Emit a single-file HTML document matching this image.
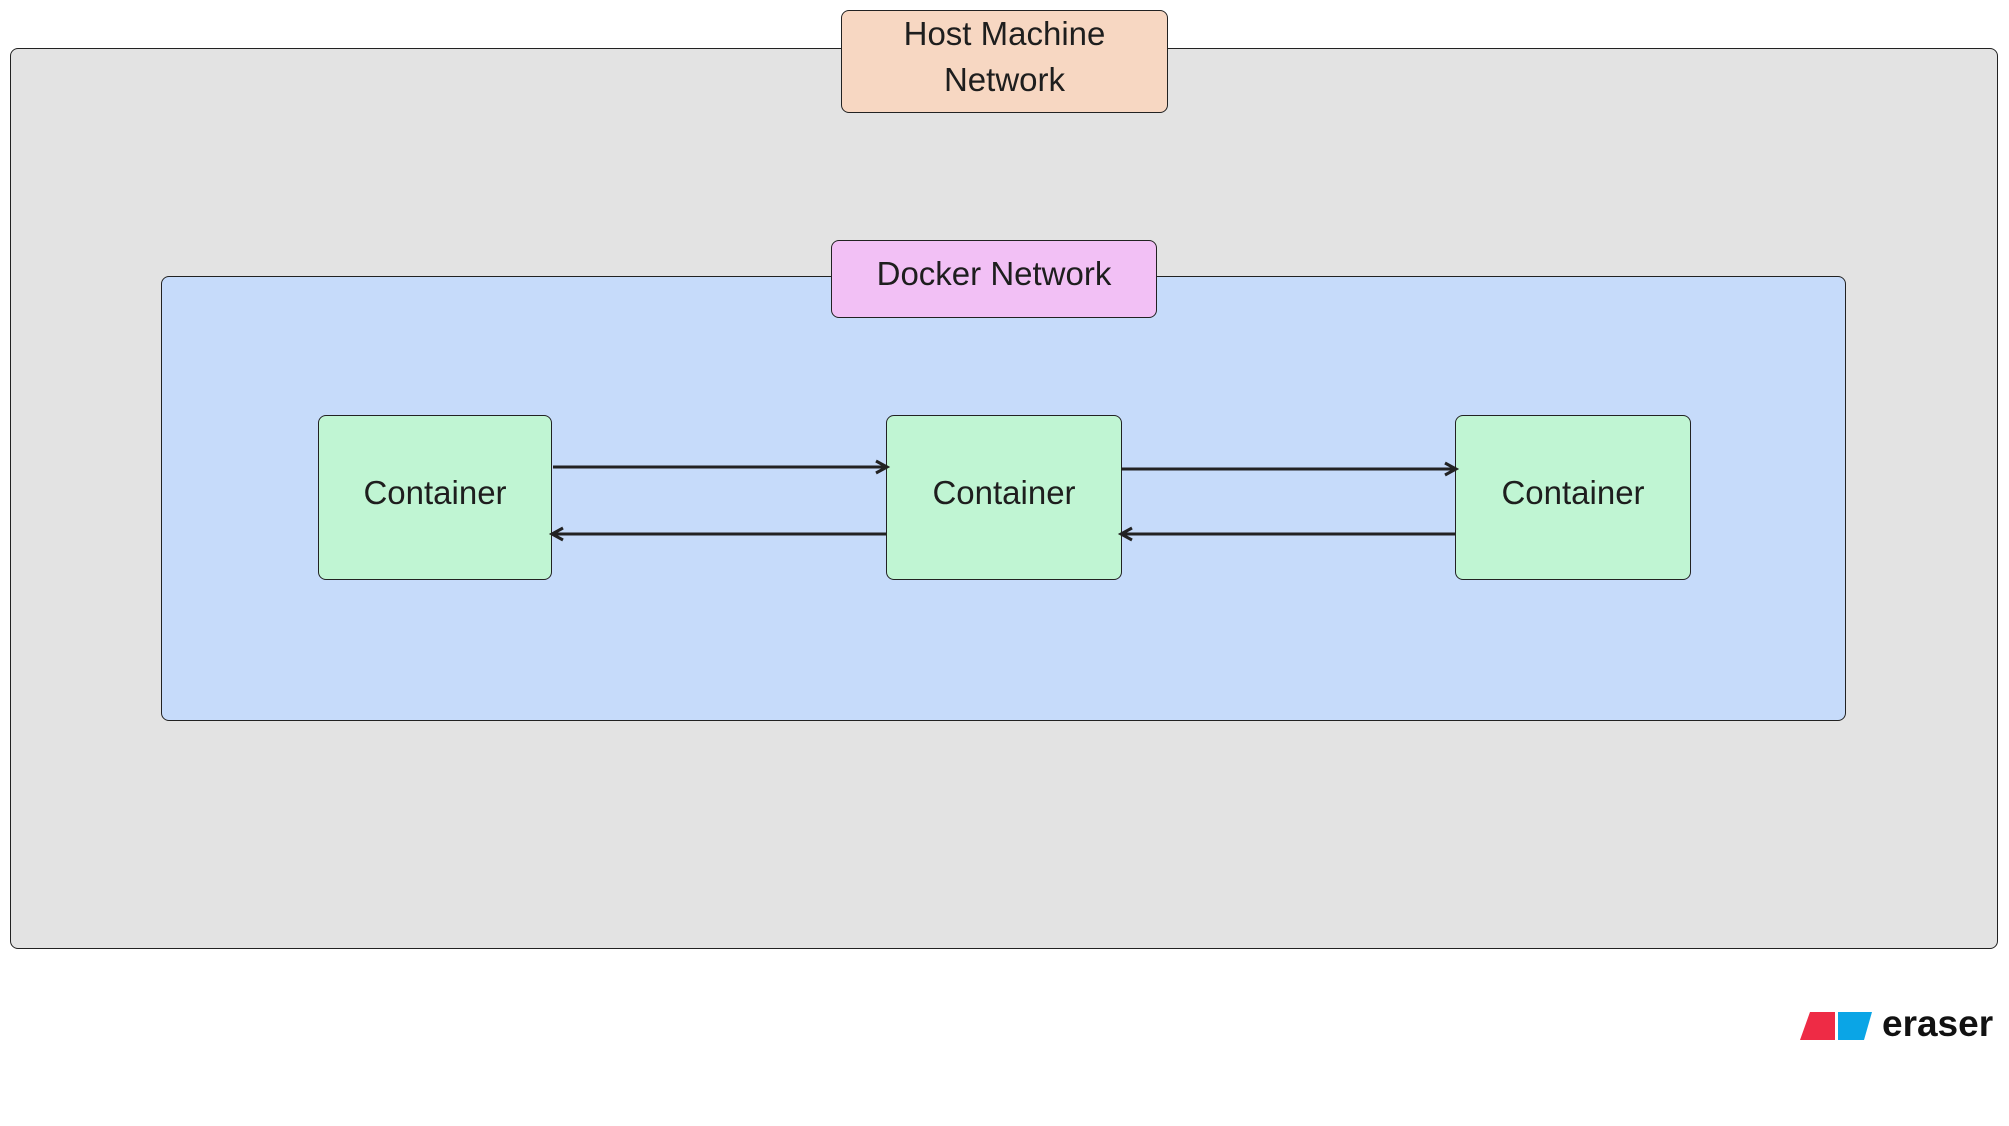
<!DOCTYPE html>
<html><head><meta charset="utf-8"><style>
body{margin:0;width:2009px;height:1126px;background:#fff;position:relative;overflow:hidden;font-family:"Liberation Sans",sans-serif;color:#1e1e1e}
.b{position:absolute;box-sizing:border-box;border:1.5px solid #222;border-radius:8px;display:flex;align-items:center;justify-content:center;text-align:center;font-size:33px;line-height:46px;padding-bottom:10px}
</style></head><body>
<div class="b" style="left:10px;top:48px;width:1988px;height:901px;background:#e3e3e3"></div>
<div class="b" style="left:841px;top:10px;width:327px;height:103px;background:#f7d7c2">Host Machine<br>Network</div>
<div class="b" style="left:161px;top:276px;width:1685px;height:445px;background:#c6dbfa"></div>
<div class="b" style="left:831px;top:240px;width:326px;height:78px;background:#f2c0f5">Docker Network</div>
<div class="b" style="left:318px;top:415px;width:234px;height:165px;background:#c0f5d3">Container</div>
<div class="b" style="left:886px;top:415px;width:236px;height:165px;background:#c0f5d3">Container</div>
<div class="b" style="left:1455px;top:415px;width:236px;height:165px;background:#c0f5d3">Container</div>
<svg style="position:absolute;left:0;top:0" width="2009" height="1126" fill="none" stroke="#222" stroke-width="3">
<path d="M553 467H886M876 461L887 467L876 473"/>
<path d="M886 534H553M563 528L552 534L563 540"/>
<path d="M1122 469H1455M1445 463L1456 469L1445 475"/>
<path d="M1455 534H1122M1132 528L1121 534L1132 540"/>
</svg>
<svg style="position:absolute;left:1800px;top:1012px" width="75" height="29"><polygon points="10,0 35,0 35,28 0,28" fill="#ee2b45"/><polygon points="38,0 72,0 64,28 38,28" fill="#0aa5e6"/></svg>
<div style="position:absolute;left:1882px;top:1003px;font-size:37px;font-weight:bold;color:#111">eraser</div>
</body></html>
